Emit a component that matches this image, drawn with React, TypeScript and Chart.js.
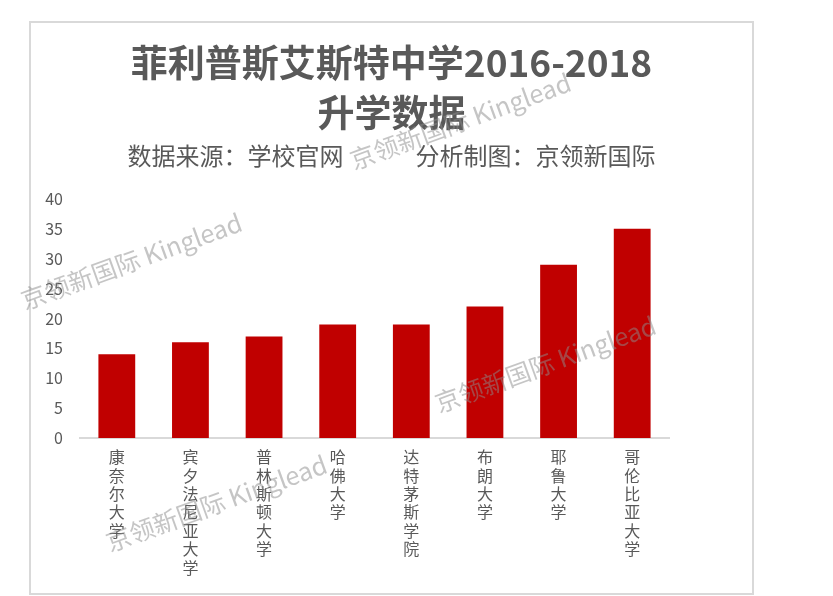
import React, { useEffect, useRef } from "react";
import { Chart, registerables } from "chart.js";

Chart.register(...registerables);

const titleLines = ["菲利普斯艾斯特中学2016-2018", "升学数据"];
const subtitleText = "数据来源：学校官网　　　分析制图：京领新国际";
const categories = [
  "康奈尔大学",
  "宾夕法尼亚大学",
  "普林斯顿大学",
  "哈佛大学",
  "达特茅斯学院",
  "布朗大学",
  "耶鲁大学",
  "哥伦比亚大学",
];
const admissions = [14, 16, 17, 19, 19, 22, 29, 35];
const yTicks = [0, 5, 10, 15, 20, 25, 30, 35, 40];
const watermarkText = "京领新国际 Kinglead";

const FONT = "'Noto Sans CJK SC', 'Noto Sans', sans-serif";
const TEXT = "#595959";

const framePlugin = {
  id: "frame",
  beforeDraw(chart: any) {
    const ctx = chart.ctx;
    ctx.save();
    ctx.fillStyle = "#ffffff";
    ctx.fillRect(0, 0, chart.width, chart.height);
    ctx.strokeStyle = "#d9d9d9";
    ctx.lineWidth = 2;
    ctx.strokeRect(30, 22, 723, 572);
    ctx.restore();
  },
};

const watermarkPlugin = {
  id: "watermark",
  afterDraw(chart: any) {
    const ctx = chart.ctx;
    const spots = [
      [25, 313],
      [354, 173],
      [110, 555],
      [439, 416],
    ];
    ctx.save();
    ctx.font = `25px ${FONT}`;
    ctx.fillStyle = "rgba(140,140,140,0.5)";
    ctx.textBaseline = "alphabetic";
    ctx.textAlign = "left";
    for (const [x, y] of spots) {
      ctx.save();
      ctx.translate(x, y - 3);
      ctx.rotate((-20 * Math.PI) / 180);
      ctx.fillText(watermarkText, 0, 0);
      ctx.restore();
    }
    ctx.restore();
  },
};

export default function App() {
  const ref = useRef<HTMLCanvasElement>(null);

  useEffect(() => {
    if (!ref.current) return;
    const chart = new Chart(ref.current, {
      type: "bar",
      data: {
        labels: categories,
        datasets: [
          {
            data: admissions,
            backgroundColor: "#c00000",
            categoryPercentage: 1,
            barPercentage: 0.5,
          },
        ],
      },
      options: {
        animation: false,
        responsive: false,
        layout: { padding: { top: 21, left: 31, right: 81, bottom: 0 } },
        plugins: {
          legend: { display: false },
          tooltip: { enabled: false },
          title: {
            display: true,
            text: titleLines,
            color: TEXT,
            font: { family: FONT, size: 37, weight: "bold", lineHeight: 50 / 37 },
            padding: { top: 16.5, bottom: 0 },
          },
          subtitle: {
            display: true,
            text: subtitleText,
            color: TEXT,
            font: { family: FONT, size: 24, weight: "normal", lineHeight: 1.2 },
            padding: { top: 4, bottom: 28.6 },
          },
        },
        scales: {
          x: {
            grid: { display: false, drawTicks: false },
            border: { display: true, color: "#d9d9d9", width: 2 },
            ticks: {
              color: TEXT,
              font: { family: FONT, size: 16, lineHeight: 1.15 },
              padding: 10,
              maxRotation: 0,
              autoSkip: false,
              callback: (_v: any, i: number) => Array.from(categories[i]),
            },
            afterFit: (s: any) => {
              s.height = 158;
            },
          },
          y: {
            min: 0,
            max: 40,
            grid: { display: false, drawTicks: false },
            border: { display: false },
            afterBuildTicks: (s: any) => {
              s.ticks = yTicks.map((v) => ({ value: v }));
            },
            ticks: {
              color: TEXT,
              font: { family: FONT, size: 16 },
              padding: 17,
            },
            afterFit: (s: any) => {
              s.width = 49;
            },
          },
          yR: {
            type: "linear",
            position: "right",
            display: true,
            grid: { display: false, drawTicks: false },
            border: { display: false },
            ticks: { display: false },
            afterFit: (s: any) => {
              s.width = 83;
            },
          },
        },
      } as any,
      plugins: [framePlugin, watermarkPlugin],
    });
    return () => chart.destroy();
  }, []);

  return (
    <div style={{ position: "absolute", left: 0, top: 0, width: 833, height: 596 }}>
      <canvas ref={ref} width={833} height={596} style={{ display: "block" }} />
    </div>
  );
}
